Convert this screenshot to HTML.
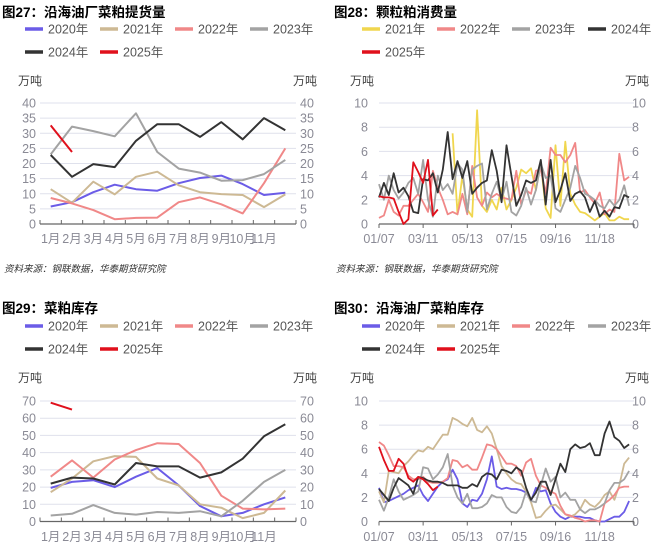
<!DOCTYPE html>
<html><head><meta charset="utf-8"><style>
html,body{margin:0;padding:0;background:#fff;}
svg{display:block;font-family:"Liberation Sans","Noto Sans CJK SC",sans-serif;}
</style></head><body>
<svg id="c" width="664" height="549" viewBox="0 0 664 549" xmlns="http://www.w3.org/2000/svg"></svg>
<script>
const months = ["1月","2月","3月","4月","5月","6月","7月","8月","9月","10月","11月"];
const dateLabels = ["01/07","03/11","05/13","07/15","09/16","11/18"];
const dateLabelWeeks = [0,9,18,27,36,45];

// Chart 27: coastal mill rapeseed meal pickup
const c27_2020 = [5.8,7.2,10.5,13,11.5,11,13.5,15.2,16,13.2,9.6,10.3];
const c27_2021 = [11.5,7,14,9.8,15.6,17.3,12.8,10.5,9.9,9.6,5.6,9.8];
const c27_2022 = [8.6,6.8,4.6,1.6,2,2.1,7.2,8.8,6.5,3.5,13.5,25];
const c27_2023 = [23,32.2,30.7,29,36.6,23.8,18.3,17,14.3,14.5,16.5,21.2];
const c27_2024 = [22.8,15.6,19.8,18.8,27.5,33,33,28.8,33.7,28,35,31];
const c27_2025 = [32.6,23.8];

// Chart 28: pellet meal consumption (weekly)
const c28_2021 = [null,null,null,null,null,null,null,null,null,null,null,null,null,null,null,7.5,0.8,4.0,1.2,0.6,9.4,1.5,1.0,2.0,1.2,3.0,1.2,2.0,3.0,4.5,4.2,4.6,2.8,5.0,1.3,0.5,6.5,1.5,6.8,2.5,1.6,1.0,0.9,0.6,0.3,0.6,0.9,0.3,0.3,0.6,0.4,0.4];
const c28_2022 = [0.5,0.7,2.0,1.0,0.7,1.5,1.5,2.0,2.5,1.8,1.0,4.4,3.0,2.0,0.8,1.0,0.8,2.5,0.8,4.8,2.2,1.5,2.6,2.2,2.5,2.2,2.1,2.0,4.4,1.6,2.8,2.5,4.4,4.5,2.5,6.3,5.7,5.7,5.1,5.7,6.7,2.6,2.8,2.2,1.7,2.6,0.8,1.2,1.0,5.8,3.6,3.9];
const c28_2023 = [3.3,2.0,4.0,2.8,2.1,2.6,3.4,3.8,2.5,5.3,2.0,0.6,4.0,2.8,3.3,2.5,5.0,4.5,1.0,4.5,4.8,5.0,1.2,2.5,3.5,2.0,3.5,1.0,0.7,1.5,3.0,1.6,2.8,5.0,3.8,4.0,1.3,1.0,2.0,3.0,4.8,3.8,2.5,2.3,2.0,1.5,1.3,2.0,1.5,2.0,3.2,1.5];
const c28_2024 = [2.2,3.4,2.4,4.2,2.6,3.0,2.3,1.0,0.9,3.7,3.6,4.2,2.6,4.5,7.6,3.7,5.2,3.8,5.2,2.5,3.0,3.4,3.6,6.1,4.4,1.8,6.5,4.0,1.5,2.4,3.6,3.4,3.6,5.3,1.6,5.3,1.8,2.8,4.2,1.9,2.5,2.7,2.2,1.0,1.9,0.6,1.1,0.6,1.4,1.3,2.4,2.2];
const c28_2025 = [2.3,2.2,2.2,2.1,1.0,0.0,0.4,5.1,4.3,3.4,5.3,0.7,1.2];

// Chart 29: rapeseed meal inventory
const c29_2020 = [19.5,23,24,20,26,31,21,9,3,5,10,14];
const c29_2021 = [17,25,35,38,37.5,25,21,10,8,2,5,18];
const c29_2022 = [26,35.5,25.5,36,41.5,45.5,45,34,15,7.5,7,7.5];
const c29_2023 = [3.5,4.5,9.5,5,4,5.5,5,6,3,12,23,30];
const c29_2024 = [22,25.5,25,21.5,34,32,32,25.5,28.5,36.5,49.5,56.5];
const c29_2025 = [69,65];

// Chart 30: coastal mill rapeseed meal inventory (weekly)
const c30_2020 = [2.8,1.6,1.7,1.9,2.1,2.3,2.6,2.8,3.0,2.2,1.7,2.3,2.9,3.3,3.5,4.3,3.5,1.5,1.2,1.8,1.7,2.3,3.5,5.4,2.9,2.7,2.8,2.7,2.7,2.6,2.4,1.7,2.8,2.5,2.6,1.5,0.8,0.4,0.2,0.4,0.4,0.4,0.3,0.3,0.1,0.0,0.0,0.2,0.4,0.4,0.8,1.7];
const c30_2021 = [2.5,1.6,4.2,4.1,4.0,4.6,5.0,5.5,5.9,5.8,6.2,6.0,6.6,7.2,7.2,8.6,8.4,8.1,7.9,8.6,7.6,7.4,7.9,7.3,6.0,4.6,4.0,3.5,3.2,3.1,2.5,1.6,0.3,0.4,0.9,1.3,1.4,1.0,0.6,0.4,0.6,1.0,1.8,1.4,1.2,1.6,2.2,2.5,1.8,3.0,4.8,5.3];
const c30_2022 = [6.6,6.3,5.5,4.6,4.6,4.5,3.8,3.5,3.5,3.7,3.3,3.2,3.2,3.3,3.6,5.1,5.0,4.5,4.7,4.3,4.3,5.3,6.4,6.3,6.0,5.4,4.8,4.8,4.6,3.8,4.9,5.2,3.8,3.0,2.8,2.5,2.3,1.3,0.6,0.5,0.3,0.2,0.0,0.1,0.1,0.0,1.5,1.8,2.2,2.8,2.9,2.9];
const c30_2023 = [1.8,0.9,2.0,3.5,2.5,1.8,2.0,2.2,2.5,4.5,4.4,3.5,3.9,4.5,5.6,3.0,2.0,1.5,2.3,1.1,1.1,1.2,1.5,2.2,2.0,2.0,1.2,0.8,0.7,1.2,2.5,1.7,1.6,3.0,4.4,3.3,3.7,2.0,2.4,1.8,1.8,1.0,0.7,1.0,1.0,1.2,1.5,2.6,3.2,3.2,3.5,4.2];
const c30_2024 = [2.7,2.2,1.7,2.8,3.6,3.3,3.0,2.3,3.7,3.6,3.4,3.3,3.3,3.2,3.0,3.0,3.0,2.8,2.8,3.1,2.9,3.7,4.0,3.9,3.5,4.3,4.2,4.0,4.5,4.2,2.8,1.8,2.4,3.3,3.3,2.2,3.5,4.8,4.1,6.0,6.4,6.1,6.2,6.5,5.5,5.5,7.3,8.3,7.0,6.7,6.1,6.4];
const c30_2025 = [6.2,5.1,4.2,4.2,5.2,4.8,3.6,3.3,3.7,3.5,3.1,2.6,2.9];

const COL = {"2020":"#6b5ce7","2021":"#cdb994","2022":"#f08888","2023":"#a3a3a3","2024":"#333333","2025":"#e0101c","2021y":"#f0d64e"};
const NS="http://www.w3.org/2000/svg";
const svg=document.getElementById('c');
function mk(tag,attrs,parent){const e=document.createElementNS(NS,tag);for(const k in attrs)e.setAttribute(k,attrs[k]);(parent||svg).appendChild(e);return e;}
function txt(x,y,s,attrs,parent){const t=mk('text',Object.assign({x:x,y:y},attrs),parent);t.textContent=s;return t;}

function panel(o){
  const g=mk('g',{});
  
  
  const t=txt(o.ox+2,o.titleY,o.title,{'font-size':'13.5','font-weight':'bold',fill:'#000'},g);
  
  
  // legend
  o.legend.forEach((L,i)=>{
    const lg=mk('g',{},g);
    
    
    const lx=o.ox+L.x, ly=o.legY+L.row*23;
    mk('line',{x1:lx,y1:ly,x2:lx+18,y2:ly,stroke:L.color,'stroke-width':3.5},lg);
    txt(lx+23,ly+4.5,L.label+'年',{'font-size':'12.5',fill:'#555'},lg);
  });
  const yb=o.y0, yt=o.y1, x0=o.x0, x1=o.x1;
  const yS=v=>yb-(v/o.ymax)*(yb-yt);
  const ul=txt(o.ox+18,o.unitY,'万吨',{'font-size':'12',fill:'#444'},g);
  
  
  const ur=txt(o.ox+293,o.unitY,'万吨',{'font-size':'12',fill:'#444'},g);
  
  
  for(let v=0;v<=o.ymax;v+=o.ystep){
    const y=yS(v);
    if(v>0){const gl=mk('line',{x1:x0,y1:y,x2:x1,y2:y,stroke:'#dfe1ec','stroke-width':1},g);
      
      }
    const a=txt(o.ox+36,y+4.5,String(v),{'font-size':'12.5',fill:'#8a8a95','text-anchor':'end'},g);
    
    
    const b=txt(o.ox+300,y+4.5,String(v),{'font-size':'12.5',fill:'#8a8a95'},g);
    
    
  }
  const ax=mk('line',{x1:x0,y1:yb,x2:x1,y2:yb,stroke:'#666','stroke-width':1.3},g);
  
  
  let xS;
  if(o.monthly){
    const bw=(x1-x0)/12;
    xS=i=>x0+bw*(i+0.5);
    for(let i=0;i<=12;i++){mk('line',{x1:x0+bw*i,y1:yb,x2:x0+bw*i,y2:yb-4,stroke:'#666','stroke-width':1},g);}
    months.forEach((m,i)=>{
      const ml=txt(x0+bw*(i+0.5),o.labY,m,{'font-size':'12.5',fill:'#8a8a95','text-anchor':'middle'},g);
      
      
    });
  } else {
    const step=(x1-x0)/52;
    xS=i=>x0+step*i;
    dateLabelWeeks.forEach((w,i)=>{
      mk('line',{x1:xS(w),y1:yb,x2:xS(w),y2:yb+4,stroke:'#666','stroke-width':1},g);
      const dl=txt(xS(w),o.labY,dateLabels[i],{'font-size':'12.5',fill:'#8a8a95','text-anchor':'middle'},g);
      
      
    });
    mk('line',{x1:x1,y1:yb,x2:x1,y2:yb+4,stroke:'#666','stroke-width':1},g);
  }
  o.series.forEach(S=>{
    let d='',pen=false;
    S.data.forEach((v,i)=>{
      if(v===null){pen=false;return;}
      d+=(pen?'L':'M')+xS(i).toFixed(1)+' '+yS(v).toFixed(1)+' ';pen=true;
    });
    const p=mk('path',{d:d,fill:'none',stroke:S.color,'stroke-width':o.monthly?2:1.8,'stroke-linejoin':'round'},g);
    
    
  });
  if(o.source){
    const s=txt(o.ox+4,o.sourceY,'资料来源：钢联数据，华泰期货研究院',{'font-size':'9.5','font-style':'italic',fill:'#333'},g);
    
    
  }
}
const leg6=(ys)=>[
  {label:'2020',color:COL["2020"],x:25,row:0},{label:'2021',color:COL["2021"],x:100,row:0},
  {label:'2022',color:COL["2022"],x:175,row:0},{label:'2023',color:COL["2023"],x:250,row:0},
  {label:'2024',color:COL["2024"],x:25,row:1},{label:'2025',color:COL["2025"],x:100,row:1}];

panel({name:'chart-27-coastal-pickup',ox:0,title:'图27：沿海油厂菜粕提货量',titleY:17,legY:29,legend:leg6(),
  unitY:85,y0:224,y1:103,x0:40,x1:296,ymax:40,ystep:5,monthly:true,labY:243,source:true,sourceY:272,
  series:[{label:'2020',data:c27_2020,color:COL["2020"]},{label:'2021',data:c27_2021,color:COL["2021"]},
  {label:'2022',data:c27_2022,color:COL["2022"]},{label:'2023',data:c27_2023,color:COL["2023"]},
  {label:'2024',data:c27_2024,color:COL["2024"]},{label:'2025',data:c27_2025,color:COL["2025"]}]});

panel({name:'chart-28-pellet-consumption',ox:332,title:'图28：颗粒粕消费量',titleY:17,legY:29,
  legend:[{label:'2021',color:COL["2021y"],x:30,row:0},{label:'2022',color:COL["2022"],x:105,row:0},
  {label:'2023',color:COL["2023"],x:180,row:0},{label:'2024',color:COL["2024"],x:256,row:0},
  {label:'2025',color:COL["2025"],x:30,row:1}],
  unitY:85,y0:224,y1:103,x0:379,x1:634,ymax:10,ystep:2,monthly:false,labY:243,source:true,sourceY:272,
  series:[{label:'2021',data:c28_2021,color:COL["2021y"]},{label:'2022',data:c28_2022,color:COL["2022"]},
  {label:'2023',data:c28_2023,color:COL["2023"]},{label:'2024',data:c28_2024,color:COL["2024"]},
  {label:'2025',data:c28_2025,color:COL["2025"]}]});

panel({name:'chart-29-meal-inventory',ox:0,title:'图29：菜粕库存',titleY:313,legY:326,legend:leg6(),
  unitY:382,y0:521.5,y1:401,x0:40,x1:296,ymax:70,ystep:10,monthly:true,labY:541,source:false,
  series:[{label:'2020',data:c29_2020,color:COL["2020"]},{label:'2021',data:c29_2021,color:COL["2021"]},
  {label:'2022',data:c29_2022,color:COL["2022"]},{label:'2023',data:c29_2023,color:COL["2023"]},
  {label:'2024',data:c29_2024,color:COL["2024"]},{label:'2025',data:c29_2025,color:COL["2025"]}]});

panel({name:'chart-30-coastal-inventory',ox:332,title:'图30：沿海油厂菜粕库存',titleY:313,legY:326,
  legend:[{label:'2020',color:COL["2020"],x:30,row:0},{label:'2021',color:COL["2021"],x:105,row:0},
  {label:'2022',color:COL["2022"],x:180,row:0},{label:'2023',color:COL["2023"],x:256,row:0},
  {label:'2024',color:COL["2024"],x:30,row:1},{label:'2025',color:COL["2025"],x:105,row:1}],
  unitY:382,y0:521.5,y1:401,x0:379,x1:634,ymax:10,ystep:2,monthly:false,labY:541,source:false,
  series:[{label:'2020',data:c30_2020,color:COL["2020"]},{label:'2021',data:c30_2021,color:COL["2021"]},
  {label:'2022',data:c30_2022,color:COL["2022"]},{label:'2023',data:c30_2023,color:COL["2023"]},
  {label:'2024',data:c30_2024,color:COL["2024"]},{label:'2025',data:c30_2025,color:COL["2025"]}]});
</script>
</body></html>
